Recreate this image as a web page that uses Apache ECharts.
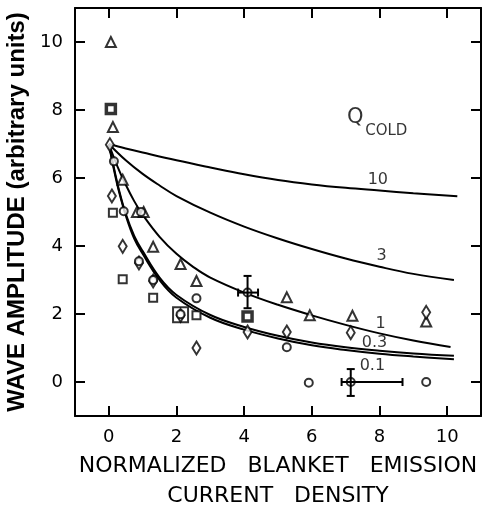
<!DOCTYPE html>
<html>
<head>
<meta charset="utf-8">
<script src="https://cdn.jsdelivr.net/npm/echarts@6/dist/echarts.min.js"></script>
<style>
html, body { margin: 0; padding: 0; background: #fff; }
#container { width: 484px; height: 510px; }
</style>
</head>
<body>
<div id="container"></div>
<script>
// tick positions
var xTicks = [0, 2, 4, 6, 8, 10]
var yTicks = [0, 2, 4, 6, 8, 10]

// theory curves, one per Q cold
var q10Curve = [[0, 7], [0.5, 6.87], [1, 6.75], [2, 6.52], [3, 6.31], [4, 6.11], [5, 5.94], [6, 5.81], [7, 5.71], [8, 5.63], [9, 5.55], [10.3, 5.46]]
var q3Curve = [[0, 7], [0.5, 6.52], [1, 6.12], [1.5, 5.78], [2, 5.47], [3, 4.98], [4, 4.57], [5, 4.22], [6, 3.91], [7, 3.63], [8, 3.39], [9, 3.18], [10.2, 3.0]]
var q1Curve = [[0, 7], [0.25, 6.35], [0.5, 5.8], [0.75, 5.32], [1, 4.92], [1.5, 4.27], [2, 3.77], [2.5, 3.38], [3, 3.07], [4, 2.63], [5, 2.27], [6, 1.96], [7, 1.68], [8, 1.43], [9, 1.22], [10.1, 1.03]]
var q03Curve = [[0, 7], [0.15, 6.3], [0.3, 5.65], [0.5, 4.95], [0.75, 4.3], [1, 3.85], [1.5, 3.07], [2, 2.56], [3, 1.97], [4, 1.62], [5, 1.36], [6, 1.16], [7, 1.02], [8, 0.92], [9, 0.84], [10.2, 0.77]]
var q01Curve = [[0, 7], [0.15, 6.25], [0.3, 5.6], [0.5, 4.9], [0.75, 4.22], [1, 3.77], [1.5, 3.0], [2, 2.48], [3, 1.89], [4, 1.54], [5, 1.28], [6, 1.08], [7, 0.94], [8, 0.83], [9, 0.75], [10.2, 0.67]]

// curve labels
var curveLabels = ['10', '3', '1', '0.3', '0.1']
var curveLabelPos = [[7.95, 5.95], [8.06, 3.7], [8.03, 1.7], [7.85, 1.14], [7.79, 0.47]]

// measured points
var triangles = [[0.06, 10.0], [0.12, 7.5], [0.41, 5.95], [0.83, 5.0], [1.03, 5.0], [1.31, 3.98], [2.12, 3.47], [2.59, 2.97], [5.26, 2.49], [5.94, 1.96], [7.2, 1.95], [9.38, 1.78]]
var circles = [[0.15, 6.49], [0.44, 5.02], [0.95, 5.0], [0.89, 3.55], [1.31, 3.0], [2.59, 2.46], [2.12, 1.99], [4.1, 2.63], [5.26, 1.02], [5.91, -0.02], [7.15, 0.0], [9.38, 0.0]]
var squares = [[0.12, 4.98], [0.41, 3.02], [1.31, 2.48], [2.59, 1.96]]
var boldSquares = [[0.06, 8.03], [4.1, 1.93]]
var bigSquares = [[2.12, 1.98]]
var diamonds = [[0.03, 6.98], [0.09, 5.47], [0.41, 3.99], [0.89, 3.5], [1.31, 2.97], [2.12, 1.96], [2.59, 1.0], [4.1, 1.47], [5.26, 1.47], [7.15, 1.45], [9.38, 2.05]]

// error bars: [x, low, high] and [y, low, high]
var errV = [[4.1, 2.17, 3.12], [7.15, -0.41, 0.38]]
var errH = [[2.63, 3.82, 4.41], [0.0, 6.88, 8.68]]

var font = 'DejaVu Sans'
var black = '#000'

var axisBase = function (pos, show) {
    var ticks = pos == 'left' || pos == 'right' ? yTicks : xTicks
    return {
        type: 'value',
        position: pos,
        min: -1,
        max: 11,
        axisLine: { onZero: false, lineStyle: { color: black, width: 2 } },
        axisTick: { inside: true, length: 10, customValues: ticks, lineStyle: { color: black, width: 2 } },
        axisLabel: { show: show, customValues: ticks, color: black, fontSize: 18, fontFamily: font, margin: 12 },
        splitLine: { show: false },
    }
}

var curveSeries = function (data) {
    return {
        type: 'line',
        data: data,
        symbol: 'none',
        smooth: 0.4,
        lineStyle: { color: black, width: 2 },
        z: 2,
    }
}

var markerSeries = function (data, symbol, size, bw) {
    return {
        type: 'scatter',
        data: data,
        symbol: symbol,
        symbolSize: size,
        itemStyle: { color: '#fff', borderColor: black, borderWidth: bw },
        z: 3,
    }
}

var errorSeries = function (data, vertical) {
    return {
        type: 'custom',
        data: data,
        z: 4,
        renderItem: function (params, api) {
            var a, b, c1, c2
            var w = 4
            if (vertical) {
                a = api.coord([api.value(0), api.value(1)])
                b = api.coord([api.value(0), api.value(2)])
                c1 = [[a[0] - w, a[1]], [a[0] + w, a[1]]]
                c2 = [[b[0] - w, b[1]], [b[0] + w, b[1]]]
            } else {
                a = api.coord([api.value(1), api.value(0)])
                b = api.coord([api.value(2), api.value(0)])
                c1 = [[a[0], a[1] - w], [a[0], a[1] + w]]
                c2 = [[b[0], b[1] - w], [b[0], b[1] + w]]
            }
            var st = { stroke: black, lineWidth: 2 }
            var seg = function (p, q) {
                return { type: 'line', shape: { x1: p[0], y1: p[1], x2: q[0], y2: q[1] }, style: st }
            }
            return { type: 'group', children: [seg(a, b), seg(c1[0], c1[1]), seg(c2[0], c2[1])] }
        },
    }
}

var textSeries = function (data, texts, size) {
    return {
        type: 'scatter',
        data: data,
        symbolSize: 0,
        z: 5,
        label: {
            show: true,
            position: 'inside',
            formatter: function (p) { return texts[p.dataIndex] },
            color: black,
            fontSize: size,
            fontFamily: font,
        },
    }
}

var chart = echarts.init(document.getElementById('container'))

var xMain = axisBase('bottom', true)
xMain.name = 'NORMALIZED   BLANKET   EMISSION\nCURRENT   DENSITY'
xMain.nameLocation = 'middle'
xMain.nameGap = 34
xMain.nameTextStyle = { color: black, fontSize: 22, fontFamily: font, lineHeight: 30 }

var yMain = axisBase('left', true)
yMain.name = 'WAVE AMPLITUDE (arbitrary units)'
yMain.nameLocation = 'middle'
yMain.nameGap = 42
yMain.nameTextStyle = { color: black, fontSize: 24, fontWeight: 'bold', fontFamily: 'Liberation Sans' }

var diamondPath = 'path://M5,0L10,8L5,16L0,8Z'

var option = {
    animation: false,
    backgroundColor: '#fff',
    grid: { left: 75, right: 3, top: 8, bottom: 94, outerBoundsMode: 'none', containLabel: false },
    xAxis: [xMain, axisBase('top', false)],
    yAxis: [yMain, axisBase('right', false)],
    series: [
        curveSeries(q10Curve),
        curveSeries(q3Curve),
        curveSeries(q1Curve),
        curveSeries(q03Curve),
        curveSeries(q01Curve),
        errorSeries(errV, true),
        errorSeries(errH, false),
        markerSeries(bigSquares, 'rect', 15, 2),
        markerSeries(squares, 'rect', 8, 2),
        markerSeries(boldSquares, 'rect', 9, 3.5),
        markerSeries(triangles, 'triangle', 10, 2),
        markerSeries(diamonds, diamondPath, [8, 13], 2),
        markerSeries(circles, 'circle', 8, 2),
        textSeries(curveLabelPos, curveLabels, 16),
        textSeries([[7.28, 7.78]], ['Q'], 21),
        textSeries([[8.2, 7.39]], ['COLD'], 15),
    ],
}

chart.setOption(option)
</script>
</body>
</html>
